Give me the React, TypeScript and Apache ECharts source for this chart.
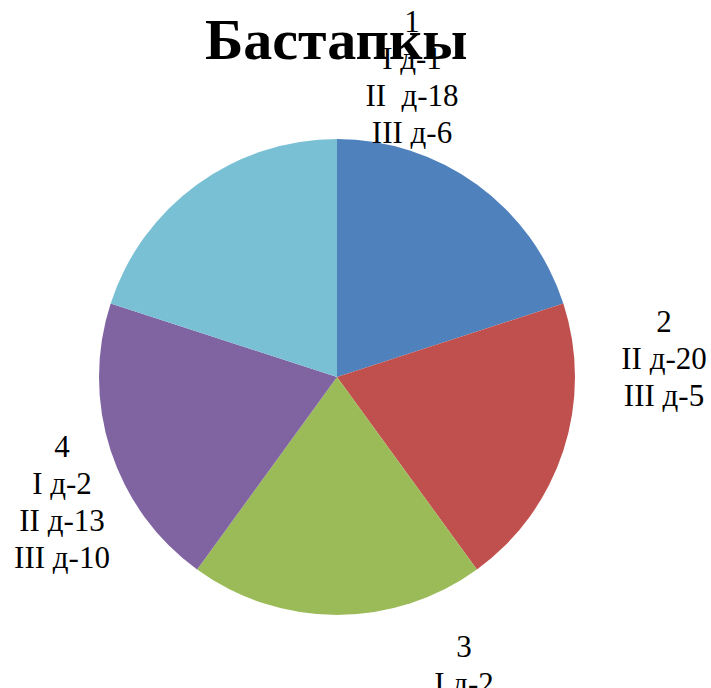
import React, { useEffect, useRef } from "react";
import * as echarts from "echarts";

const titleText = "Бастапкы";
const categories = ["1", "2", "3", "4", "5"];
const values = [1, 1, 1, 1, 1];
const detailLines: string[][] = [
  ["I д-1", "II  д-18", "III д-6"],
  ["II д-20", "III д-5"],
  ["I д-2"],
  ["I д-2", "II д-13", "III д-10"],
  [],
];
const sliceColors = ["#4F81BD", "#C0504D", "#9BBB59", "#8064A2", "#79C0D5"];
const showLabel = [true, true, true, true, false];

// label anchor (center x, top y) of each label block, in pixels
const labelAnchors: [number, number][] = [
  [412, 3],
  [664, 303],
  [464, 628],
  [62, 428],
  [0, 0],
];

const SERIF = "Liberation Serif";

export default function App() {
  const ref = useRef<HTMLDivElement>(null);
  useEffect(() => {
    if (!ref.current) return;
    const chart = echarts.init(ref.current, undefined, { renderer: "svg" });
    const labelStyle = {
      fontFamily: SERIF,
      fontSize: 31,
      lineHeight: 37,
      color: "#000",
      align: "center",
    };
    chart.setOption({
      animation: false,
      backgroundColor: "#ffffff",
      textStyle: { fontFamily: SERIF },
      title: {
        text: titleText,
        left: 200,
        top: 5,
        textStyle: {
          fontFamily: SERIF,
          fontWeight: "bold",
          fontSize: 58,
          color: "#000",
        },
      },
      series: [
        {
          type: "pie",
          center: [337, 377],
          radius: 238,
          startAngle: 90,
          clockwise: true,
          avoidLabelOverlap: false,
          silent: true,
          itemStyle: { borderWidth: 0 },
          label: {
            show: true,
            position: "outside",
            ...labelStyle,
            formatter: (p: any) =>
              [categories[p.dataIndex], ...detailLines[p.dataIndex]].join("\n"),
          },
          labelLine: { show: false },
          labelLayout: (p: any) => {
            const a = labelAnchors[p.dataIndex];
            return { x: a[0], y: a[1], align: "center", verticalAlign: "top" };
          },
          data: categories.map((c, i) => ({
            name: c,
            value: values[i],
            itemStyle: { color: sliceColors[i] },
            label: { show: showLabel[i], fontFamily: SERIF },
          })),
        },
      ],
    });
    return () => chart.dispose();
  }, []);
  return (
    <div
      ref={ref}
      style={{ position: "fixed", left: 0, top: 0, width: 711, height: 688 }}
    />
  );
}
